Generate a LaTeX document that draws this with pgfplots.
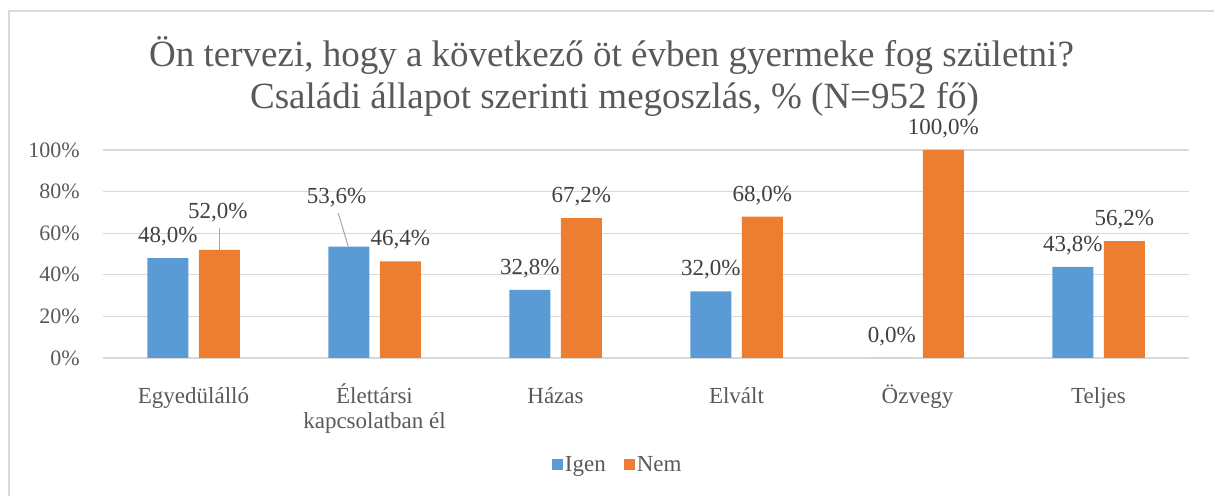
\documentclass[border=0pt]{standalone}
\usepackage{pgfplots}
\pgfplotsset{compat=1.18}
\usepackage{fontspec}
\setmainfont{Liberation Serif}
\definecolor{cblue}{HTML}{5B9BD5}
\definecolor{corange}{HTML}{ED7D31}
\definecolor{gridc}{HTML}{D9D9D9}
\definecolor{tickc}{HTML}{595959}
\definecolor{labc}{HTML}{404040}
\definecolor{leadc}{HTML}{A6A6A6}
\begin{document}
\begin{tikzpicture}[x=1pt,y=1pt]
\useasboundingbox (0,0) rectangle (1214,495);
\draw[gridc, line width=1.6pt] (9,-5) -- (9,484) -- (1220,484);
\node[anchor=base, text=tickc, font=\fontsize{37}{42}\selectfont, inner sep=0pt] at (611.5,428.5) {Ön tervezi, hogy a következő öt évben gyermeke fog születni?};
\node[anchor=base, text=tickc, font=\fontsize{37}{42}\selectfont, inner sep=0pt] at (614.5,386) {Családi állapot szerinti megoszlás, \% (N=952 fő)};
\begin{axis}[
  at={(103pt,137pt)}, anchor=south west,
  width=1086pt, height=208pt, scale only axis,
  xmin=-0.5, xmax=5.5, ymin=0, ymax=100,
  enlargelimits=false,
  ybar=10.5pt, bar width=41pt,
  axis line style={draw=none},
  major tick length=0pt,
  ymajorgrids, grid style={gridc, line width=1.3pt},
  ytick={0,20,40,60,80,100},
  yticklabels={0\%,20\%,40\%,60\%,80\%,100\%},
  yticklabel style={text=tickc, font=\fontsize{22}{26}\selectfont, anchor=east, inner sep=0pt, xshift=-23pt},
  xtick={0,1,2,3,4,5},
  xticklabels={Egyedülálló,{\begin{tabular}[t]{@{}c@{}}Élettársi\\kapcsolatban él\end{tabular}},Házas,Elvált,Özvegy,Teljes},
  xticklabel style={text=tickc, font=\fontsize{23}{25.5}\selectfont, anchor=base, inner sep=0pt, yshift=-45pt},
  point meta=explicit symbolic,
  nodes near coords,
  nodes near coords style={text=labc, font=\fontsize{23}{26}\selectfont, anchor=base, inner sep=0pt, yshift=15.5pt},
  legend columns=2,
  legend style={at={(0.474,-0.514)}, anchor=center, draw=none, fill=none, text=tickc, font=\fontsize{23}{26}\selectfont,
    /tikz/every even column/.append style={column sep=16pt}},
  legend image code/.code={\fill[#1,draw=none] (0pt,-5.5pt) rectangle (11pt,5.5pt);},
]
\addplot[fill=cblue, draw=none] coordinates {
  (0,48.0) [48,0\%]
  (1,53.6) []
  (2,32.8) [32,8\%]
  (3,32.0) [32,0\%]
  (4,0.0) [0,0\%]
  (5,43.8) [43,8\%]
};
\addplot[fill=corange, draw=none] coordinates {
  (0,52.0) []
  (1,46.4) [46,4\%]
  (2,67.2) [67,2\%]
  (3,68.0) [68,0\%]
  (4,100.0) [100,0\%]
  (5,56.2) [56,2\%]
};
\legend{Igen,Nem}
\draw[leadc, line width=1pt] (axis cs:0.141,62.5) -- (axis cs:0.141,52);
\draw[leadc, line width=1pt] (axis cs:0.8,69.6) -- (axis cs:0.855,53.6);
\node[text=labc, font=\fontsize{23}{26}\selectfont, inner sep=0pt] at (axis cs:0.134,69.9) {52,0\%};
\node[text=labc, font=\fontsize{23}{26}\selectfont, inner sep=0pt] at (axis cs:0.791,77.1) {53,6\%};
\end{axis}
\end{tikzpicture}
\end{document}
